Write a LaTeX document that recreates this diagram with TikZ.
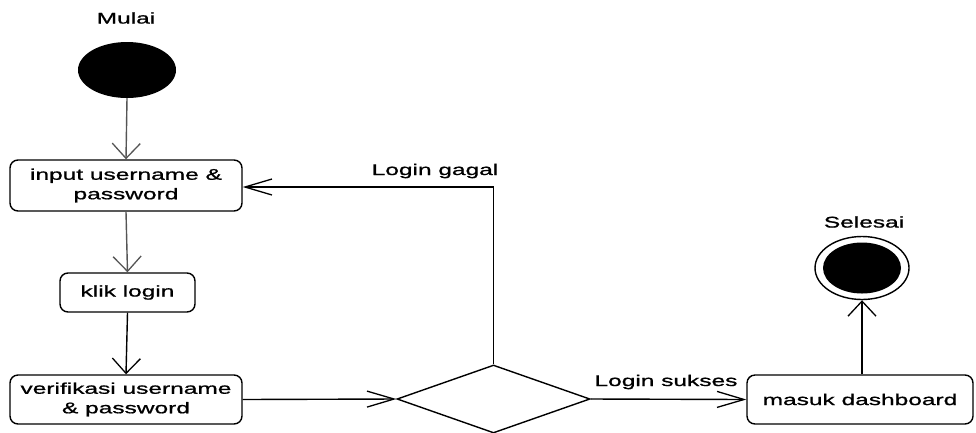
\documentclass[tikz,border=0pt]{standalone}
\usepackage{fontspec}
\setmainfont[FakeStretch=1.58,FakeBold=1]{Liberation Sans}
\usetikzlibrary{shapes.geometric,arrows.meta}
\definecolor{flowgray}{RGB}{85,85,85}
\tikzset{
  x=1pt, y=-1pt,
  every node/.style={font=\fontsize{15.5}{19.5}\selectfont, align=center},
  action/.style={draw, line width=1.4pt, rounded corners=8pt, inner sep=0pt},
  caption/.style={inner sep=0pt},
  flow/.style={line width=1.4pt},
  vtip/.style={-{Straight Barb[length=15pt,width=28pt,line width=1.3pt]}},
  htip/.style={-{Straight Barb[length=27pt,width=16pt,line width=1.3pt]}},
}
\begin{document}
\begin{tikzpicture}
\useasboundingbox (0,0) rectangle (976,432);

% start and end states
\node[caption] (mulai) at (126,18) {Mulai};
\node[ellipse, fill=black, minimum width=98pt, minimum height=56pt, inner sep=0pt] (start) at (127,70) {};

\node[caption] (selesai) at (864,222) {Selesai};
\node[ellipse, draw, line width=1.4pt, fill=white, minimum width=94pt, minimum height=63pt, inner sep=0pt] (endo) at (862,268) {};
\node[ellipse, fill=black, minimum width=78pt, minimum height=51pt, inner sep=0pt] (endi) at (endo) {};

% actions
\node[action, minimum width=232pt, minimum height=51pt] (input) at (126,185.5) {input username \&\\password};
\node[action, minimum width=135pt, minimum height=39pt] (klik) at (127.5,292.5) {klik login};
\node[action, minimum width=232pt, minimum height=49pt] (verif) at (126,399.5) {verifikasi username\\\& password};
\node[action, minimum width=226pt, minimum height=49pt] (dash) at (860,399.5) {masuk dashboard};

% decision
\node[diamond, draw, line width=1.4pt, minimum width=193pt, minimum height=68pt, inner sep=0pt] (dec) at (493.5,399) {};

% flow labels
\node[caption] (gagal) at (435,171) {Login gagal};
\node[caption] (sukses) at (666,382) {Login sukses};

% connectors
\draw[flow, vtip, flowgray] (start.south) -- (input.north);
\draw[flow, vtip, flowgray] (input.south) -- (klik.north);
\draw[flow, vtip] (klik.south) -- (verif.north);
\draw[flow, htip] (verif.east) -- (dec.west);
\draw[flow, htip] (dec.north) |- ([yshift=-1.5pt]input.east);
\draw[flow, htip] (dec.east) -- (dash.west);
\draw[flow, vtip] (dash.north -| endo) -- (endo.south);
\end{tikzpicture}
\end{document}
